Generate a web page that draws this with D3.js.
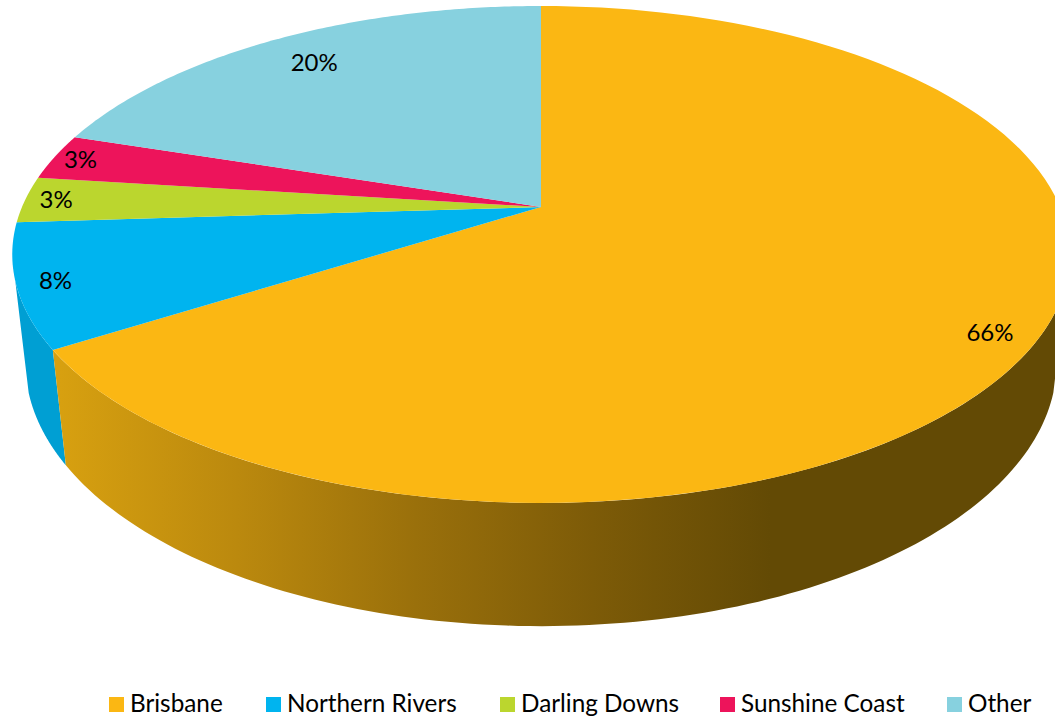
<!DOCTYPE html>
<html>
<head>
<meta charset="utf-8">
<style>
html,body{margin:0;padding:0;background:#fff;overflow:hidden}
svg{display:block}
text{font-family:Lato,"Open Sans",sans-serif;fill:#000}
</style>
<script src="https://cdn.jsdelivr.net/npm/d3@7"></script>
</head>
<body>
<svg id="chart" width="1055" height="717"></svg>
<script>
const regions = ["Brisbane", "Northern Rivers", "Darling Downs", "Sunshine Coast", "Other"];
const shares = [66, 8, 3, 3, 20];
const faceColors = ["#FBB713", "#00B4EF", "#BBD62E", "#ED145B", "#87D1DF"];
const labelReach = [0.92, 0.93, 0.94, 0.945, 0.84];
const labelTurn = [2.5, -0.2, 0, 0, 0];
const legendX = [109, 266, 500, 720, 947];

const svg = d3.select("#chart");

// Camera model: a unit disc of thickness 1 seen in perspective.
const hub = {x: 541, y: 207};
const cam = {A: 519, a: 239.4, k: -0.191, drop: 110, shrink: 0.0246};

function project(theta, r, depth) {
  const u = r * Math.sin(theta), v = -r * Math.cos(theta);
  const w = 1 + cam.k * v + cam.shrink * depth;
  return [hub.x + cam.A * u / w, hub.y + (cam.a * v + cam.drop * depth) / w];
}

const pie = d3.pie().sort(null).value(d => d)(shares);
const line = d3.line();
const arcSteps = (a0, a1) => d3.range(0, 121).map(i => a0 + (a1 - a0) * i / 120);
const rad = d => d * Math.PI / 180;

// Side wall: the outer rim from a0 to a1, top edge then bottom edge.
function wallPath(a0, a1) {
  const steps = arcSteps(a0, a1);
  const top = steps.map(t => project(t, 1, 0));
  const bottom = steps.slice().reverse().map(t => project(t, 1, 1));
  return line(top.concat(bottom)) + "Z";
}

function slicePath(d) {
  const rim = arcSteps(d.startAngle, d.endAngle).map(t => project(t, 1, 0));
  return line([[hub.x, hub.y]].concat(rim)) + "Z";
}

// Shading across the large wall, lit on the left and dark toward the right.
const defs = svg.append("defs");
const wallShade = defs.append("linearGradient")
  .attr("id", "wallShade")
  .attr("gradientUnits", "userSpaceOnUse")
  .attr("x1", 60).attr("y1", 0).attr("x2", 770).attr("y2", 0);
[[0, "#D7A010"], [0.25, "#BB890E"], [0.5, "#9A700B"], [0.75, "#7D5B08"], [1, "#634A05"]]
  .forEach(([o, c]) => wallShade.append("stop").attr("offset", o).attr("stop-color", c));

const silhouette = rad(253);   // where the rim turns away on the left
const rightEdge = rad(107);    // same on the right, beyond the page edge

svg.append("path")
  .attr("d", wallPath(pie[1].startAngle, silhouette))
  .attr("fill", "#009FD3");
svg.append("path")
  .attr("d", wallPath(rightEdge, pie[0].endAngle))
  .attr("fill", "url(#wallShade)");

svg.append("g").selectAll("path").data(pie).join("path")
  .attr("d", slicePath)
  .attr("fill", (d, i) => faceColors[i]);

const labelPoint = (d, i) =>
  project((d.startAngle + d.endAngle) / 2 + rad(labelTurn[i]), labelReach[i], 0);

svg.append("g").selectAll("text").data(pie).join("text")
  .attr("text-anchor", "middle")
  .attr("font-size", 24)
  .attr("dy", "0.35em")
  .attr("x", (d, i) => labelPoint(d, i)[0])
  .attr("y", (d, i) => labelPoint(d, i)[1])
  .text(d => d.value + "%");

const legend = svg.append("g").selectAll("g").data(regions).join("g")
  .attr("transform", (d, i) => `translate(${legendX[i]},697)`);
legend.append("rect").attr("width", 15).attr("height", 15)
  .attr("fill", (d, i) => faceColors[i]);
legend.append("text").attr("x", 21).attr("y", 15)
  .attr("font-size", 24.3)
  .text(d => d);
</script>
</body>
</html>
